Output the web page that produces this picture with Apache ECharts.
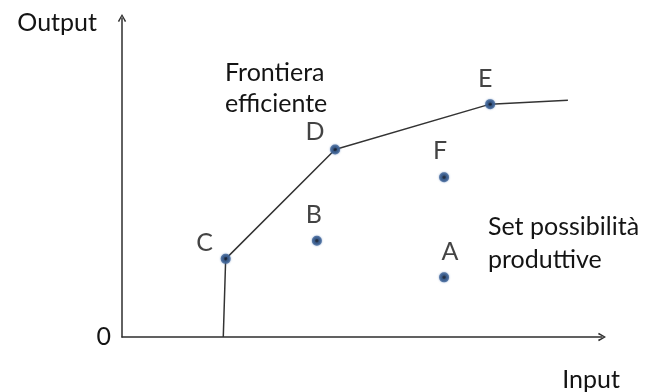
<!DOCTYPE html>
<html>
<head>
<meta charset="utf-8">
<script src="https://cdn.jsdelivr.net/npm/echarts@6/dist/echarts.min.js"></script>
<style>
  html, body { margin: 0; padding: 0; background: #fff; }
  #chart { width: 645px; height: 392px; }
</style>
</head>
<body>
<div id="chart"></div>
<script>
// efficient frontier (input, output)
const frontierInput = [21.1, 21.6, 44.4, 76.7, 92.9];
const frontierOutput = [0, 24.5, 58.8, 73.0, 74.2];

// production units
const pointNames = ["A", "B", "C", "D", "E", "F"];
const pointInput = [67.1, 40.6, 21.6, 44.4, 76.7, 67.1];
const pointOutput = [18.7, 30.2, 24.5, 58.8, 73.0, 50.1];

const FONT = "Lato";
const TXT = "#141414";
const FS = 25;

// label placement next to each dot
const labelOffset = {
  A: [6, -25], B: [-3, -26], C: [-21, -16],
  D: [-20, -17], E: [-5, -25], F: [-4, -26]
};

// open chevron used as arrow head
const chevron = "path://M50,0 L100,86 L84,96 L50,28 L16,96 L0,86 Z";

const chart = echarts.init(document.getElementById("chart"));
chart.setOption({
  animation: false,
  grid: { left: 122, right: 43, top: 18, bottom: 55 },
  xAxis: {
    type: "value",
    min: 0,
    max: 100,
    name: "Input",
    nameLocation: "end",
    nameGap: -11,
    nameTextStyle: {
      fontFamily: FONT, fontSize: FS, color: TXT,
      align: "center", verticalAlign: "top", padding: [30, 0, 0, 0]
    },
    axisLine: {
      lineStyle: { color: "#2e2e2e", width: 1.5 },
      symbol: ["none", chevron],
      symbolSize: [12, 8]
    },
    axisTick: { show: false },
    axisLabel: { show: false },
    splitLine: { show: false }
  },
  yAxis: {
    type: "value",
    min: 0,
    max: 100,
    interval: 100,
    name: "Output",
    nameLocation: "end",
    nameGap: -5,
    nameTextStyle: {
      fontFamily: FONT, fontSize: FS, color: TXT,
      align: "right", verticalAlign: "middle", padding: [0, 25, 0, 0]
    },
    axisLine: {
      show: true,
      lineStyle: { color: "#2e2e2e", width: 1.5 },
      symbol: ["none", chevron],
      symbolSize: [12, 8]
    },
    axisTick: { show: false },
    axisLabel: {
      showMaxLabel: false,
      margin: 11,
      fontFamily: FONT, fontSize: FS, color: TXT,
      padding: [10, 0, 0, 0],
      formatter: v => (v === 0 ? "0" : "")
    },
    splitLine: { show: false }
  },
  series: [
    {
      type: "line",
      data: frontierInput.map((x, i) => [x, frontierOutput[i]]),
      symbol: "none",
      lineStyle: { color: "#333", width: 1.5 },
      z: 2
    },
    {
      type: "scatter",
      data: pointNames.map((n, i) => ({
        name: n,
        value: [pointInput[i], pointOutput[i]],
        label: { offset: labelOffset[n] }
      })),
      symbolSize: 7,
      itemStyle: {
        color: "#030812",
        borderColor: "#3d6293",
        borderWidth: 3,
        shadowBlur: 2,
        shadowColor: "rgba(80,120,180,0.8)"
      },
      label: {
        show: true,
        position: "inside",
        formatter: p => p.name,
        fontFamily: FONT, fontSize: FS, color: TXT
      },
      z: 3
    }
  ],
  graphic: [
    {
      type: "text",
      left: 225,
      top: 57,
      style: {
        text: "Frontiera\nefficiente",
        font: FS + "px " + FONT,
        fill: TXT,
        lineHeight: 31
      }
    },
    {
      type: "text",
      left: 488,
      top: 210,
      style: {
        text: "Set possibilità\nproduttive",
        font: FS + "px " + FONT,
        fill: TXT,
        lineHeight: 33
      }
    }
  ]
});
</script>
</body>
</html>
